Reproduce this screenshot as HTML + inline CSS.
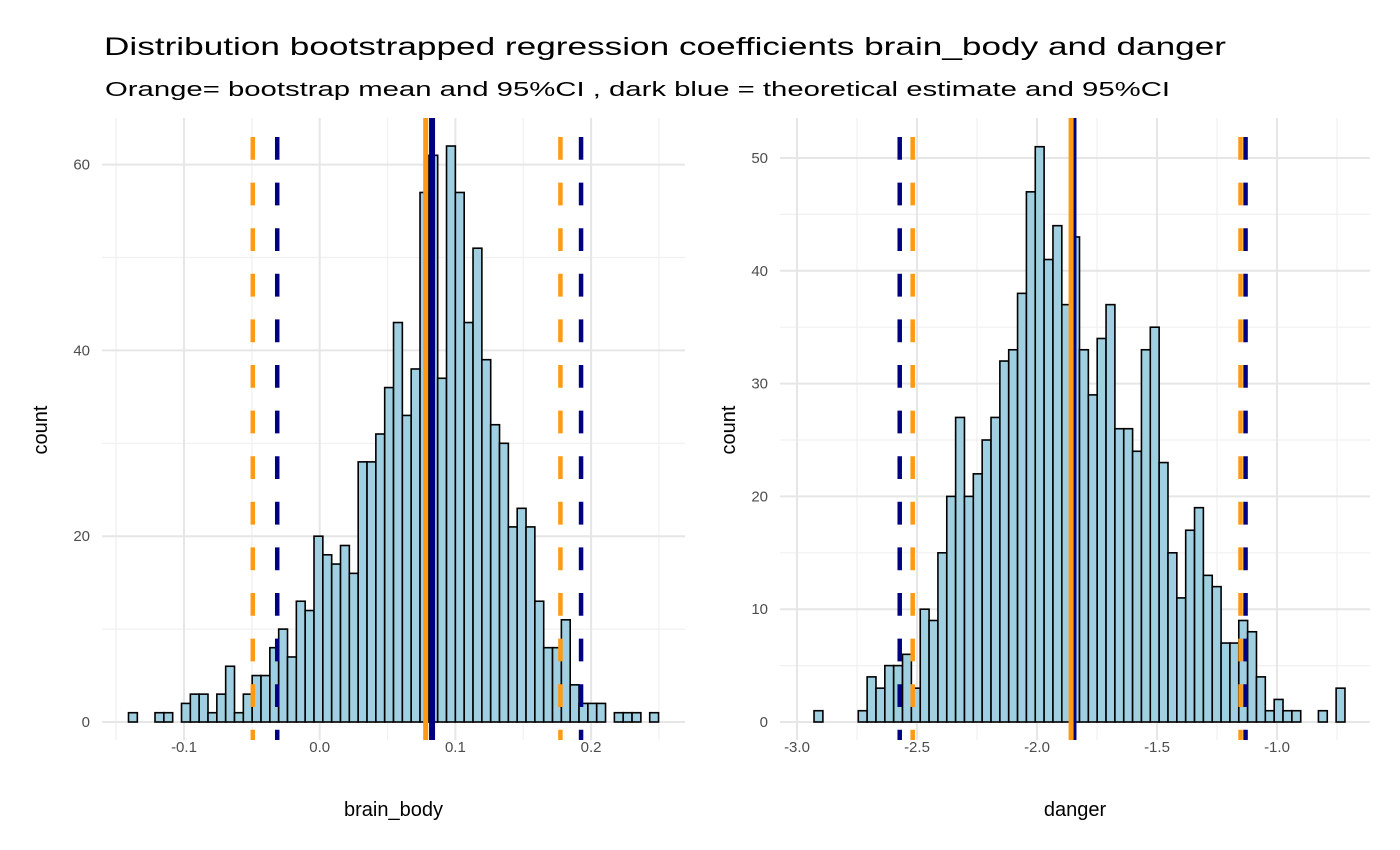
<!DOCTYPE html>
<html><head><meta charset="utf-8"><style>
html,body{margin:0;padding:0;background:#fff;}
svg{display:block;font-family:"Liberation Sans",Arial,sans-serif;}
</style></head><body>
<svg id="chart" width="1400" height="850" viewBox="0 0 1400 850" xmlns="http://www.w3.org/2000/svg">
<text x="104" y="55" font-size="25" fill="#000" textLength="1122" lengthAdjust="spacingAndGlyphs">Distribution bootstrapped regression coefficients brain_body and danger</text>
<text x="105" y="96" font-size="20" fill="#000" textLength="1065" lengthAdjust="spacingAndGlyphs">Orange= bootstrap mean and 95%CI , dark blue = theoretical estimate and 95%CI</text>
<g id="p1"></g>
<g id="p2"></g>
</svg>
<script>
// ---- data: brain_body panel ----
const bbBinStart = -0.1409;
const bbBinWidth = 0.00651;
const bbCounts = [1,0,0,1,1,0,2,3,3,1,3,6,1,3,5,5,8,10,7,13,12,20,18,17,19,16,28,28,31,36,43,33,38,57,61,37,62,57,43,51,39,32,30,21,23,21,13,8,8,11,4,2,2,2,0,1,1,1,0,1];
const bbXTicks = [-0.1, 0.0, 0.1, 0.2];
const bbXTickLabels = ["-0.1","0.0","0.1","0.2"];
const bbXMinor = [-0.15,-0.05,0.05,0.15,0.25];
const bbYTicks = [0,20,40,60];
const bbYMinor = [10,30,50];
const bbBootCI = [-0.0493, 0.1774];
const bbBootMean = 0.0781;
const bbTheoCI = [-0.0313, 0.1926];
const bbTheoEst = 0.0828;
// ---- data: danger panel ----
const dgBinStart = -2.929;
const dgBinWidth = 0.03687;
const dgCounts = [1,0,0,0,0,1,4,3,5,5,6,3,10,9,15,20,27,20,22,25,27,32,33,38,47,51,41,44,37,43,33,29,34,37,26,26,24,33,35,23,15,11,17,19,13,12,7,7,9,8,4,1,2,1,1,0,0,1,0,3];
const dgXTicks = [-3.0,-2.5,-2.0,-1.5,-1.0];
const dgXTickLabels = ["-3.0","-2.5","-2.0","-1.5","-1.0"];
const dgXMinor = [-2.75,-2.25,-1.75,-1.25,-0.75];
const dgYTicks = [0,10,20,30,40,50];
const dgYMinor = [5,15,25,35,45];
const dgBootCI = [-2.518, -1.152];
const dgBootMean = -1.858;
const dgTheoCI = [-2.572, -1.131];
const dgTheoEst = -1.848;

const NS="http://www.w3.org/2000/svg";
function mk(tag, attrs, parent){const e=document.createElementNS(NS,tag);for(const k in attrs)e.setAttribute(k,attrs[k]);parent.appendChild(e);return e;}

function panel(g, cfg){
  const x = v => cfg.x0 + (v - cfg.v0) * cfg.kx;
  const y = c => cfg.y0 - c * cfg.ky;
  const top=118, bottom=740;
  cfg.xMinor.forEach(v=>{const l=mk('line',{x1:x(v),x2:x(v),y1:top,y2:bottom,stroke:'#f0f0f0','stroke-width':1.2},g);
    
    });
  cfg.yMinor.forEach(c=>{const l=mk('line',{x1:cfg.left,x2:cfg.right,y1:y(c),y2:y(c),stroke:'#f0f0f0','stroke-width':1.2},g);
    
    });
  cfg.xTicks.forEach((v,i)=>{const l=mk('line',{x1:x(v),x2:x(v),y1:top,y2:bottom,stroke:'#e6e6e6','stroke-width':2},g);
    
    
    const t=mk('text',{x:x(v),y:752,'font-size':15,fill:'#4d4d4d','text-anchor':'middle'},g);t.textContent=cfg.xLabels[i];
    
    });
  cfg.yTicks.forEach(c=>{const l=mk('line',{x1:cfg.left,x2:cfg.right,y1:y(c),y2:y(c),stroke:'#e6e6e6','stroke-width':2},g);
    
    
    const t=mk('text',{x:cfg.yLabX,y:y(c)+5,'font-size':15,fill:'#4d4d4d','text-anchor':'end'},g);t.textContent=String(c);
    
    });
  cfg.counts.forEach((c,i)=>{
    const xl=x(cfg.binStart+i*cfg.binWidth), xr=x(cfg.binStart+(i+1)*cfg.binWidth);
    const r=mk('rect',{x:xl,y:y(c),width:xr-xl,height:y(0)-y(c),fill:'#9fcfe1',stroke:'#000','stroke-width':1.6},g);
    
    
  });
  function vline(v,color,dashed,w,name){
    const a={x1:x(v),x2:x(v),y1:top,y2:bottom,stroke:color,'stroke-width':w};
    if(dashed){a['stroke-dasharray']='22.8 22.8';a['stroke-dashoffset']=-19;}
    const l=mk('line',a,g);
    
    
  }
  cfg.bootCI.forEach(v=>vline(v,'#ff9a12',true,4.5,'bootstrap-ci-line'));
  cfg.theoCI.forEach(v=>vline(v,'#000080',true,4.5,'theoretical-ci-line'));
  vline(cfg.theoEst,'#000080',false,6,'theoretical-estimate-line');
  vline(cfg.bootMean,'#ff9a12',false,5,'bootstrap-mean-line');
  const xt=mk('text',{x:(cfg.left+cfg.right)/2,y:816,'font-size':20,fill:'#000','text-anchor':'middle'},g);xt.textContent=cfg.xTitle;
  
  
  const yt=mk('text',{x:0,y:0,'font-size':20,fill:'#000','text-anchor':'middle',transform:`translate(${cfg.yTitleX},430) rotate(-90)`},g);yt.textContent='count';
  
  
}

panel(document.getElementById('p1'),{x0:319.7,v0:0,kx:1357,y0:722,ky:9.29,left:102,right:685,
  xTicks:bbXTicks,xLabels:bbXTickLabels,xMinor:bbXMinor,yTicks:bbYTicks,yMinor:bbYMinor,yLabX:90,
  counts:bbCounts,binStart:bbBinStart,binWidth:bbBinWidth,bootCI:bbBootCI,theoCI:bbTheoCI,bootMean:bbBootMean,theoEst:bbTheoEst,
  xTitle:'brain_body',yTitleX:47});
panel(document.getElementById('p2'),{x0:797,v0:-3,kx:240,y0:722,ky:11.28,left:780,right:1370,
  xTicks:dgXTicks,xLabels:dgXTickLabels,xMinor:dgXMinor,yTicks:dgYTicks,yMinor:dgYMinor,yLabX:768,
  counts:dgCounts,binStart:dgBinStart,binWidth:dgBinWidth,bootCI:dgBootCI,theoCI:dgTheoCI,bootMean:dgBootMean,theoEst:dgTheoEst,
  xTitle:'danger',yTitleX:735});
</script>
</body></html>
